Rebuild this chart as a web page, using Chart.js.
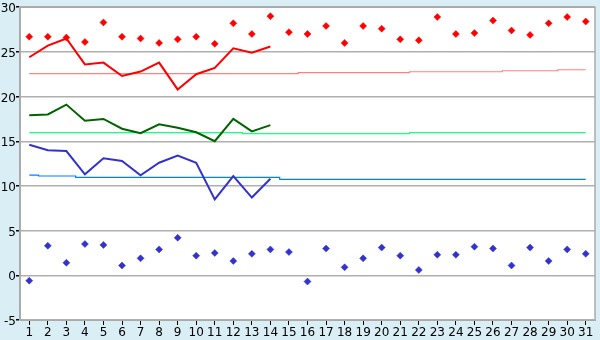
<!DOCTYPE html>
<html><head><meta charset="utf-8">
<script src="https://cdn.jsdelivr.net/npm/chart.js@4/dist/chart.umd.min.js"></script>
<style>html,body{margin:0;padding:0;background:#daeff5;}canvas{display:block;}</style>
</head><body>
<canvas id="c" width="600" height="340"></canvas>
<script>
const days = ['1','2','3','4','5','6','7','8','9','10','11','12','13','14','15','16','17','18','19','20','21','22','23','24','25','26','27','28','29','30','31'];
const maxPoints = [26.7,26.7,26.6,26.1,28.3,26.7,26.5,26.0,26.4,26.7,25.9,28.2,27.0,29.0,27.2,27.0,27.9,26.0,27.9,27.6,26.4,26.3,28.9,27.0,27.1,28.5,27.4,26.9,28.2,28.9,28.4];
const minPoints = [-0.6,3.3,1.4,3.5,3.4,1.1,1.9,2.9,4.2,2.2,2.5,1.6,2.4,2.9,2.6,-0.7,3.0,0.9,1.9,3.1,2.2,0.6,2.3,2.3,3.2,3.0,1.1,3.1,1.6,2.9,2.4];
const maxLine = [24.4,25.7,26.5,23.6,23.8,22.3,22.8,23.8,20.8,22.5,23.2,25.4,24.9,25.6,null,null,null,null,null,null,null,null,null,null,null,null,null,null,null,null,null];
const meanLine = [17.9,18.0,19.1,17.3,17.5,16.4,15.9,16.9,16.5,16.0,15.0,17.5,16.1,16.8,null,null,null,null,null,null,null,null,null,null,null,null,null,null,null,null,null];
const minLine = [14.6,14.0,13.9,11.3,13.1,12.8,11.2,12.6,13.4,12.6,8.5,11.1,8.7,10.8,null,null,null,null,null,null,null,null,null,null,null,null,null,null,null,null,null];
const normMax = [22.56,22.56,22.56,22.56,22.56,22.56,22.56,22.56,22.56,22.56,22.56,22.56,22.56,22.56,22.56,22.67,22.67,22.67,22.67,22.67,22.67,22.78,22.78,22.78,22.78,22.78,22.89,22.89,22.89,23.0,23.0];
const normMean = [15.96,15.96,15.96,15.96,15.96,15.96,15.96,15.96,15.96,15.96,15.96,15.96,15.85,15.85,15.85,15.85,15.85,15.85,15.85,15.85,15.85,15.96,15.96,15.96,15.96,15.96,15.96,15.96,15.96,15.96,15.96];
const normMin = [11.22,11.11,11.11,10.96,10.96,10.96,10.96,10.96,10.96,10.96,10.96,10.96,10.96,10.96,10.74,10.74,10.74,10.74,10.74,10.74,10.74,10.74,10.74,10.74,10.74,10.74,10.74,10.74,10.74,10.74,10.74];
const yTicks = [-5,0,5,10,15,20,25,30];

const frame = {
  id: 'frame',
  beforeDraw(chart) {
    const {ctx, chartArea: a} = chart;
    ctx.save();
    ctx.fillStyle = '#daeff5';
    ctx.fillRect(0, 0, chart.width, chart.height);
    ctx.fillStyle = '#ffffff';
    ctx.fillRect(a.left, a.top, a.right - a.left, a.bottom - a.top);
    ctx.restore();
  },
  afterDatasetsDraw(chart) {
    const {ctx, chartArea: a} = chart;
    ctx.save();
    ctx.strokeStyle = '#aaaaaa';
    ctx.lineWidth = 1.5;
    ctx.beginPath();
    ctx.moveTo(a.left, a.top);
    ctx.lineTo(a.right, a.top);
    ctx.lineTo(a.right, a.bottom);
    ctx.stroke();
    ctx.restore();
  }
};

const stepDs = (data, color) => ({type:'line', data, borderColor: color, borderWidth: 1.2, pointRadius: 0, stepped: 'middle', fill: false, order: 10});
const lineDs = (data, color) => ({type:'line', data, borderColor: color, borderWidth: 2, pointRadius: 0, fill: false, spanGaps: false, order: 5});
const ptDs = (data, color) => ({type:'line', data, showLine: false, pointStyle: 'rectRot', pointRadius: 3.5, pointBackgroundColor: color, pointBorderColor: color, pointBorderWidth: 0.5, order: 1});

new Chart(document.getElementById('c'), {
  data: {
    labels: days,
    datasets: [
      stepDs(normMax, '#ff8080'),
      stepDs(normMean, '#19ff80'),
      stepDs(normMin, '#0080ff'),
      lineDs(maxLine, '#ff0000'),
      lineDs(meanLine, '#006400'),
      lineDs(minLine, '#3333cc'),
      ptDs(maxPoints, '#ff0000'),
      ptDs(minPoints, '#3333cc')
    ]
  },
  options: {
    responsive: false,
    animation: false,
    events: [],
    layout: {padding: {top: 5, right: 5, left: 0, bottom: 0}},
    plugins: {legend: {display: false}, tooltip: {enabled: false}},
    scales: {
      x: {
        type: 'category',
        offset: true,
        grid: {drawOnChartArea: false, drawTicks: true, tickLength: 5, tickColor: '#000', offset: false},
        border: {display: true, color: '#aaaaaa', width: 1},
        ticks: {autoSkip: false, maxRotation: 0, padding: 1, color: '#000', font: {family: 'DejaVu Sans', size: 12}},
        afterFit(s) { s.height = 20; }
      },
      y: {
        min: -5, max: 30,
        afterBuildTicks(s) { s.ticks = yTicks.map(v => ({value: v})); },
        grid: {color: '#b0b0b0', lineWidth: 1.5, tickLength: 4, tickColor: '#000'},
        border: {display: true, color: '#aaaaaa', width: 2},
        ticks: {padding: 0, labelOffset: 2, color: '#000', font: {family: 'DejaVu Sans', size: 12}},
        afterFit(s) { s.width = 20; }
      }
    }
  },
  plugins: [frame]
});
</script>
</body></html>
